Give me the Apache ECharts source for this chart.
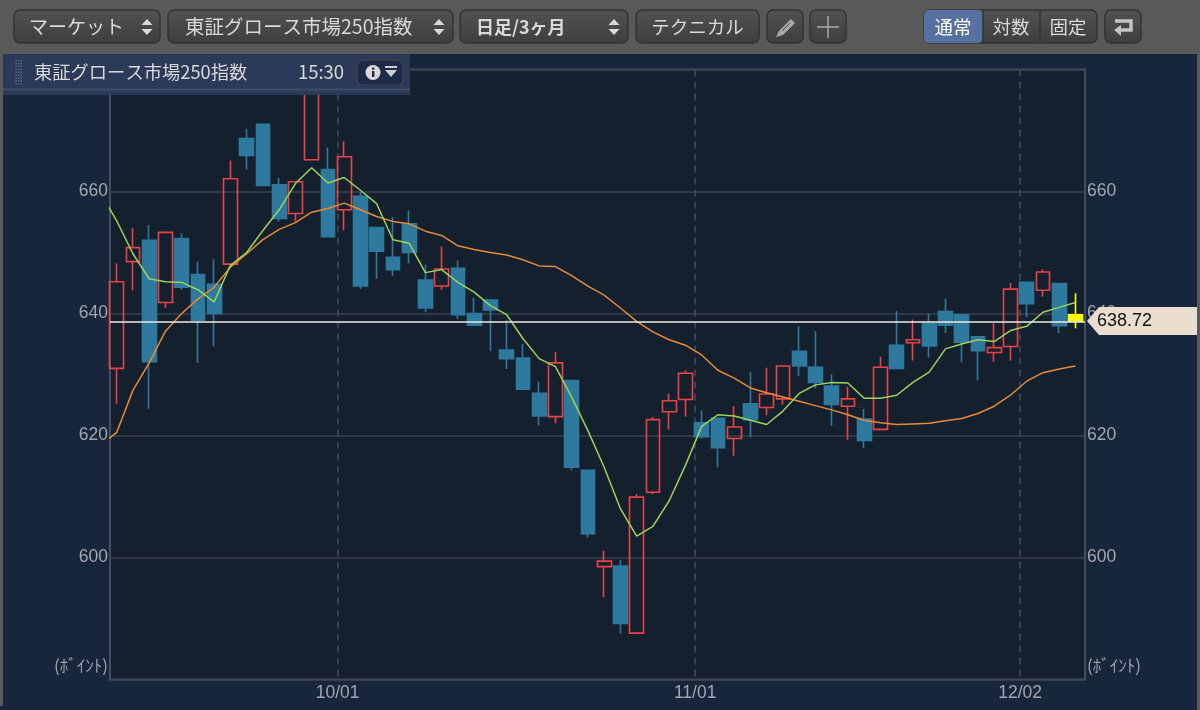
<!DOCTYPE html>
<html><head><meta charset="utf-8">
<style>html,body{margin:0;padding:0;background:#18263c}#c{width:1200px;height:710px}</style>
<script src="https://cdn.jsdelivr.net/npm/echarts@6/dist/echarts.min.js"></script>
</head><body><div id="c"></div>
<script>
const opens=[631.0,648.5,652.0,641.8,652.3,646.4,644.8,648.1,668.7,671.0,661.1,656.4,665.2,663.6,657.0,659.2,654.1,649.2,654.7,645.5,644.5,647.4,640.0,642.2,634.0,632.7,626.9,623.1,629.0,614.3,598.5,598.6,587.6,610.7,623.9,625.9,622.1,622.8,619.5,625.2,624.6,626.0,633.8,631.2,628.1,624.8,622.7,621.0,634.8,635.2,638.4,640.3,639.8,636.2,633.6,634.6,645.1,643.8,644.9,639.8];
const closes=[645.2,650.8,632.1,653.3,644.3,638.9,640.0,662.1,665.9,661.0,655.6,661.6,678.0,652.6,665.7,644.5,650.2,647.2,650.0,640.9,647.3,639.8,638.1,640.6,632.6,627.6,623.2,631.9,614.8,603.9,599.4,589.2,609.9,622.6,625.7,630.2,619.8,618.0,621.4,622.6,626.8,631.4,631.4,628.7,625.1,626.0,619.2,631.2,631.0,635.7,634.7,638.1,635.3,633.9,634.4,644.0,641.6,646.8,638.0,638.72];
const lows=[625.2,643.8,624.4,640.9,643.9,631.9,634.6,648.0,663.6,660.9,655.1,655.1,665.1,652.5,653.6,644.0,645.7,646.2,648.2,640.2,643.9,639.1,638.0,633.8,630.9,627.4,621.7,622.0,614.3,603.3,593.5,587.6,587.5,610.4,621.0,623.1,619.5,614.8,616.7,619.7,623.3,625.1,629.8,627.8,621.6,619.3,617.9,620.9,630.9,632.3,632.8,636.8,632.0,629.0,632.1,632.3,639.4,642.8,636.8,637.6];
const highs=[648.2,654.0,654.5,653.5,653.1,648.5,648.9,665.1,670.3,671.1,662.2,661.7,679.0,667.2,668.2,659.9,654.2,655.8,656.9,648.0,651.0,648.7,642.6,642.3,638.9,635.0,628.8,633.7,629.1,614.4,601.1,599.6,610.4,623.0,626.9,630.7,624.1,622.9,624.8,630.4,631.1,631.5,637.9,637.1,630.0,628.0,624.4,632.9,640.4,639.0,640.0,642.4,639.9,636.3,638.4,645.0,645.2,647.2,645.0,643.3];
// moving averages: first entry belongs to the session just before the first candle
const maShort=[659.8,655.2,649.8,645.7,645.2,645.1,643.9,641.9,647.9,650.0,653.6,657.0,661.3,663.9,661.4,662.3,660.2,658.0,652.1,651.5,646.7,647.2,645.1,643.5,641.3,639.8,635.9,632.6,631.3,626.3,620.8,614.8,608.0,603.5,605.1,609.3,615.1,621.5,623.4,623.2,622.5,621.8,624.0,626.9,628.3,628.7,628.6,626.1,626.1,626.6,628.7,630.4,634.2,635.0,635.7,635.4,637.2,637.9,640.2,641.0,641.8];
const maLong=[618.4,620.5,627.4,631.9,637.1,640.0,642.4,644.3,647.6,649.8,652.1,653.8,654.9,656.6,657.2,658.1,657.0,655.9,655.1,654.7,653.5,652.8,651.1,650.5,650.0,649.6,648.8,647.8,647.7,646.2,644.5,643.0,640.9,638.7,637.0,635.7,634.8,633.2,630.7,629.4,627.8,627.0,626.3,625.6,624.9,624.2,623.4,622.5,622.1,621.8,621.9,622.0,622.4,622.8,623.6,624.8,626.6,628.9,630.3,630.9,631.4];
const xTickPos=[13.6,35.6,55.6];
const xTickLabels=['10/01','11/01','12/02'];
const yTicks=[600,620,640,660];
const lastPrice=638.72;
const unitLabel='(ﾎﾞｲﾝﾄ)';
const indexName='東証グロース市場250指数';

const JP='"Noto Sans CJK JP","Noto Sans",sans-serif';
const BLUE='#2e7a9e',RED='#ea4346',YEL='#ffff00';
const candles=opens.map((o,i)=>{
  const item={value:[i,o,closes[i],lows[i],highs[i]]};
  if(i===opens.length-1) item.itemStyle={color:YEL,color0:YEL,borderColor:YEL,borderColor0:YEL};
  return item;
});
const lineData=a=>a.map((v,i)=>[i-1,v]);

function rect(x,y,w,h,fill,extra){return Object.assign({type:'rect',shape:{x,y,width:w,height:h,r:(extra&&extra.r)||0},style:{fill,stroke:(extra&&extra.stroke)||null,lineWidth:(extra&&extra.lw)||0},z:(extra&&extra.z)||100},{silent:true});}
function text(t,x,y,o){o=o||{};return {type:'text',z:o.z||110,silent:true,style:{text:t,x,y,fill:o.fill||'#d9d9d9',font:(o.weight||'400')+' '+(o.size||18.5)+'px '+JP,textAlign:o.align||'center',textVerticalAlign:'middle'}};}
function poly(pts,fill,z){return {type:'polygon',z:z||110,silent:true,shape:{points:pts},style:{fill}};}
function line(x1,y1,x2,y2,stroke,lw,z){return {type:'line',z:z||110,silent:true,shape:{x1,y1,x2,y2},style:{stroke,lineWidth:lw||1}};}
const btnFill={type:'linear',x:0,y:0,x2:0,y2:1,colorStops:[{offset:0,color:'#525252'},{offset:1,color:'#3e3e3e'}]};
function btn(x,w){return rect(x,10,w,33,btnFill,{r:6,stroke:'#333333',lw:1.5});}
function updown(x){return [poly([[x-5.5,25],[x+5.5,25],[x,19]],'#d9d9d9'),poly([[x-5.5,29],[x+5.5,29],[x,35]],'#d9d9d9')];}

const g=[
  rect(0,0,1200,54,'#595959'),
  rect(0,54,3,652,'#595959'),
  rect(1197,54,3,656,'#595959'),
  btn(14,146),text('マーケット',29,27,{align:'left',size:19}),...updown(147),
  btn(168,285),text(indexName,185,27,{align:'left',size:19.5}),...updown(439),
  btn(460,168),text('日足/3ヶ月',476,27,{align:'left',weight:'700',size:18}),...updown(614),
  btn(636,123),text('テクニカル',697.5,27),
  btn(767,36),poly([[776,37],[779,31],[791,19],[795,23],[783,35]],'#a9a9a9'),line(782,31,790,23,'#4a4a4a',1),
  btn(810,36),line(828,16,828,38,'#b5b5b5',1.3),line(817,27,839,27,'#b5b5b5',1.3),
  btn(924,173),
  rect(924,10,59,33,'#56719f',{r:5}),
  line(983,10,983,43,'#333333',1.5),line(1040,10,1040,43,'#333333',1.5),
  text('通常',953,27,{fill:'#ffffff'}),text('対数',1011,27),text('固定',1068,27),
  btn(1105,36),
  {type:'polyline',z:110,silent:true,shape:{points:[[1115,21],[1131,21],[1131,30],[1119,30]]},style:{fill:null,stroke:'#c4c4c4',lineWidth:3.5}},
  poly([[1114,30],[1121,25],[1121,36]],'#c4c4c4'),
  // header panel
  rect(3,54,407,41,'#2b3a58'),
  line(3,89.5,410,89.5,'#414c66',2,105),
  text(indexName,34,72,{align:'left',size:18.3}),
  text('15:30',321,72),
  rect(357,60,46,25,'#1e2a47',{r:6,stroke:'#3a3f4e',lw:1.5}),
  {type:'circle',z:110,silent:true,shape:{cx:373,cy:72.5,r:7.5},style:{fill:'#d9d9d9'}},
  rect(372,71,2.4,6,'#1e2a47',{z:111}),rect(372,67.5,2.4,2.2,'#1e2a47',{z:111}),
  rect(385,66,12,2,'#cfcfcf',{z:110}),poly([[385,70],[397,70],[391,77]],'#cfcfcf'),
  // price flag
  poly([[1087,321],[1099,307],[1198,307],[1198,335],[1099,335]],'#e9dece',1),
  text(unitLabel,108,666,{align:'right',size:17,fill:'#a0a4aa',z:5}),
  text(unitLabel,1087,666,{align:'left',size:17,fill:'#a0a4aa',z:5})
];
for(let r=0;r<9;r++)for(let c=0;c<3;c++)g.push(rect(15.5+c*2.6,60+r*2.9,1.3,1.3,'#6c7690'));

const axisLabelStyle={color:'#a3a6ab',fontSize:17.5,fontFamily:'"Liberation Sans",Arial,sans-serif'};
const chart=echarts.init(document.getElementById('c'),null,{renderer:'canvas'});
chart.setOption({
  animation:false,
  backgroundColor:'#18263c',
  graphic:{elements:g},
  grid:{left:110,top:69.5,width:975,height:610,show:true,backgroundColor:'#15202f',borderColor:'#474e5e',borderWidth:2},
  xAxis:{type:'value',min:-0.41,max:59.59,
    axisLine:{show:false},
    axisTick:{show:false,customValues:xTickPos},
    axisLabel:Object.assign({},axisLabelStyle,{customValues:xTickPos,margin:5,
      formatter:v=>xTickLabels[xTickPos.indexOf(v)]||''}),
    splitLine:{show:true,lineStyle:{color:'#424b5b',type:[7,5],width:1.5}}},
  yAxis:[
    {type:'value',min:580,max:680,interval:20,position:'left',axisLine:{show:false},axisTick:{show:false},
     axisLabel:Object.assign({},axisLabelStyle,{customValues:yTicks,margin:2}),
     splitLine:{show:true,lineStyle:{color:'#3a414f',width:1.6}}},
    {type:'value',min:580,max:680,interval:20,position:'right',axisLine:{show:false},axisTick:{show:false},
     axisLabel:Object.assign({},axisLabelStyle,{customValues:yTicks,margin:2}),
     splitLine:{show:false}}
  ],
  series:[
    {type:'candlestick',data:candles,encode:{x:0,y:[1,2,3,4]},barWidth:14.2,z:2,
     itemStyle:{color:'transparent',color0:BLUE,borderColor:RED,borderColor0:BLUE,borderWidth:1.6},
     markLine:{silent:true,symbol:'none',animation:false,z:6,
       lineStyle:{color:'#ecebe3',width:1.6,type:'solid'},
       label:{show:true,position:'end',distance:12,formatter:()=>lastPrice.toFixed(2),color:'#111111',fontSize:18,fontFamily:'"Liberation Sans",Arial,sans-serif'},
       data:[{yAxis:lastPrice}]}},
    {type:'line',data:lineData(maLong),symbol:'none',z:4,lineStyle:{color:'#e68a36',width:1.5}},
    {type:'line',data:lineData(maShort),symbol:'none',z:5,lineStyle:{color:'#9bd35a',width:1.5}}
  ]
});
</script></body></html>
